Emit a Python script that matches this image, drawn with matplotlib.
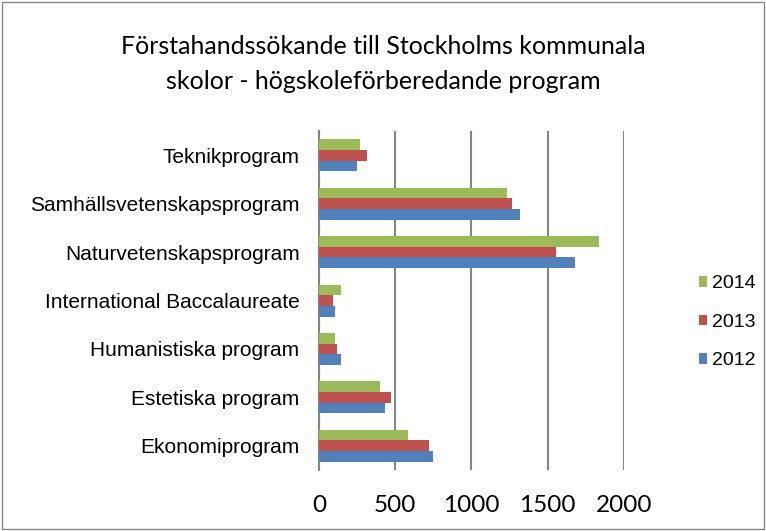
import numpy as np
import matplotlib.pyplot as plt
from matplotlib.patches import Rectangle

categories = ['Teknikprogram', 'Samhällsvetenskapsprogram', 'Naturvetenskapsprogram',
              'International Baccalaureate', 'Humanistiska program',
              'Estetiska program', 'Ekonomiprogram']
v2012 = [252, 1317, 1678, 103, 147, 431, 748]
v2013 = [313, 1265, 1554, 92, 120, 470, 724]
v2014 = [269, 1236, 1834, 142, 107, 400, 584]
years = ['2014', '2013', '2012']
xticks = [0, 500, 1000, 1500, 2000]

fig = plt.figure(figsize=(7.66, 5.31), dpi=100)
ax = fig.add_axes([0.4165, 0.115, 0.398, 0.638])

y = np.arange(len(categories))[::-1].astype(float)
h = 0.22
blue, red, green = '#4F81BD', '#C0504D', '#9BBB59'
ax.barh(y + h, v2014, height=h, color=green, label='2014', zorder=3)
ax.barh(y, v2013, height=h, color=red, label='2013', zorder=3)
ax.barh(y - h, v2012, height=h, color=blue, label='2012', zorder=3)

ax.set_xlim(0, 2000)
ax.set_ylim(-0.5, len(categories) - 0.5)
ax.set_xticks(xticks)
ax.set_xticklabels([str(t) for t in xticks], fontsize=17.5, family='Lato')
ax.set_yticks(y)
ax.set_yticklabels(categories, fontsize=15, family='Liberation Sans')
ax.tick_params(axis='y', length=0, pad=14)
ax.tick_params(axis='x', length=0, pad=18)
ax.grid(axis='x', color='#868686', linewidth=1.5, zorder=0)
for s in ['top', 'right', 'bottom']:
    ax.spines[s].set_visible(False)
ax.spines['left'].set_color('#868686')
ax.spines['left'].set_linewidth(1.5)

leg = fig.legend(loc='center left', bbox_to_anchor=(0.912, 0.393), frameon=False,
                 prop={'family': 'Liberation Sans', 'size': 14},
                 handlelength=0.45, handleheight=0.45, handletextpad=0.25,
                 labelspacing=1.1, borderaxespad=0, borderpad=0)

fig.text(0.5, 0.912, 'Förstahandssökande till Stockholms kommunala', ha='center',
         va='center', fontsize=18, family='Lato')
fig.text(0.5, 0.846, 'skolor - högskoleförberedande program', ha='center',
         va='center', fontsize=18, family='Lato')

fig.patches.append(Rectangle((0.002, 0.003), 0.996, 0.994, transform=fig.transFigure,
                             fill=False, edgecolor='#868686', linewidth=1))
fig.savefig('out.png', dpi=100)
